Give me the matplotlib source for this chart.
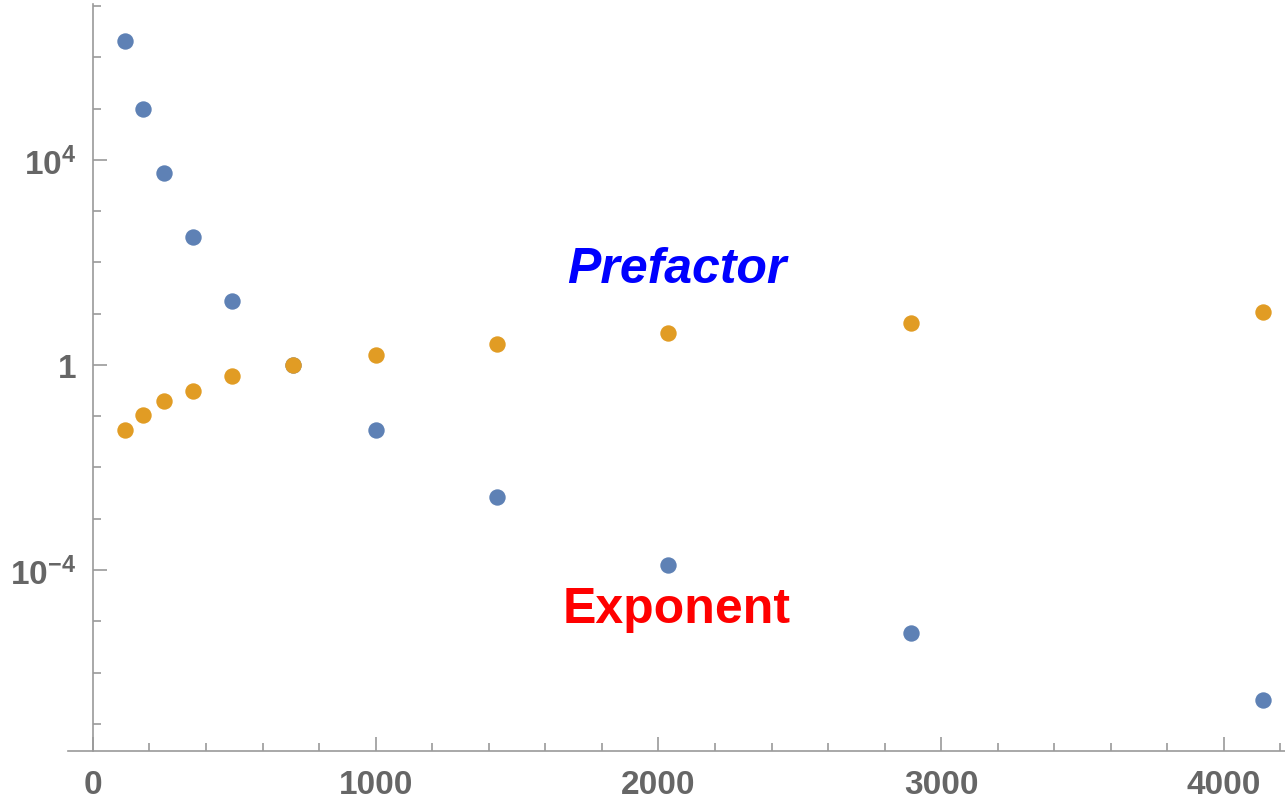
import numpy as np
import matplotlib
matplotlib.use("Agg")
import matplotlib.pyplot as plt
from matplotlib.ticker import NullFormatter

# data (x = system size, y on a log scale)
x_vals = [112, 176, 251, 353, 492, 706, 1000, 1428, 2035, 2895, 4137]
prefactor_log = [6.31, 4.99, 3.74, 2.49, 1.24, -0.006, -1.26, -2.57, -3.90, -5.22, -6.54]
exponent_log = [-1.26, -0.98, -0.70, -0.50, -0.225, -0.006, 0.20, 0.41, 0.615, 0.82, 1.03]

x_major = [0, 1000, 2000, 3000, 4000]
y_major = [1e-4, 1, 1e4]
y_major_labels = [r"$\mathbf{10^{-4}}$", r"$\mathbf{1}$", r"$\mathbf{10^{4}}$"]

plt.rcParams["font.family"] = ["Liberation Sans", "DejaVu Sans"]
plt.rcParams["mathtext.fontset"] = "custom"
plt.rcParams["mathtext.rm"] = "Liberation Sans:bold"
plt.rcParams["mathtext.bf"] = "Liberation Sans:bold"
plt.rcParams["mathtext.it"] = "Liberation Sans:bold:italic"

axis_grey = "#9a9a9a"
label_grey = "#666666"
blue = "#5e81b5"
orange = "#e19c24"

fig = plt.figure(figsize=(12.85, 8.03), dpi=100)
ax = fig.add_axes([68 / 1285, 51 / 803, 1 - 68 / 1285, 747 / 803])

pref = 10.0 ** np.array(prefactor_log)
expo = 10.0 ** np.array(exponent_log)

ax.plot(x_vals, pref, "o", color=blue, markersize=11.8, markeredgewidth=0, zorder=3)
ax.plot(x_vals, expo, "o", color=orange, markersize=11.8, markeredgewidth=0, zorder=4)

ax.set_yscale("log")
ax.set_xlim(-88, 4216)
ax.set_ylim(10 ** -7.53, 10 ** 7.04)

# axes in Mathematica style: y axis crosses at x = 0
for s in ["top", "right"]:
    ax.spines[s].set_visible(False)
ax.spines["left"].set_position(("data", 0))
for s in ["left", "bottom"]:
    ax.spines[s].set_color(axis_grey)
    ax.spines[s].set_linewidth(1.2)

ax.set_xticks(x_major)
ax.set_xticklabels([str(v) for v in x_major])
ax.set_xticks([v for v in range(200, 4201, 200) if v % 1000 != 0], minor=True)

ax.set_yticks(y_major)
ax.set_yticklabels(y_major_labels)
ax.set_yticks([10.0 ** k for k in range(-7, 8) if k not in (-4, 0, 4)], minor=True)
ax.yaxis.set_minor_formatter(NullFormatter())
ax.xaxis.set_minor_formatter(NullFormatter())

ax.tick_params(axis="both", which="both", direction="in", color=axis_grey, width=1.2)
ax.tick_params(axis="both", which="major", length=10, labelsize=24, labelcolor=label_grey)
ax.tick_params(axis="both", which="minor", length=5.5)
ax.tick_params(axis="x", which="major", pad=13)
ax.tick_params(axis="y", which="major", pad=12)
for t in ax.get_xticklabels():
    t.set_fontweight("bold")

ax.text(0.50, 0.628, "Prefactor", transform=ax.transAxes, color="#0000ff",
        fontsize=36, fontweight="bold", fontstyle="italic", ha="center", va="baseline")
ax.text(0.50, 0.173, "Exponent", transform=ax.transAxes, color="#ff0000",
        fontsize=36, fontweight="bold", ha="center", va="baseline")

fig.savefig("out.png", dpi=100)
